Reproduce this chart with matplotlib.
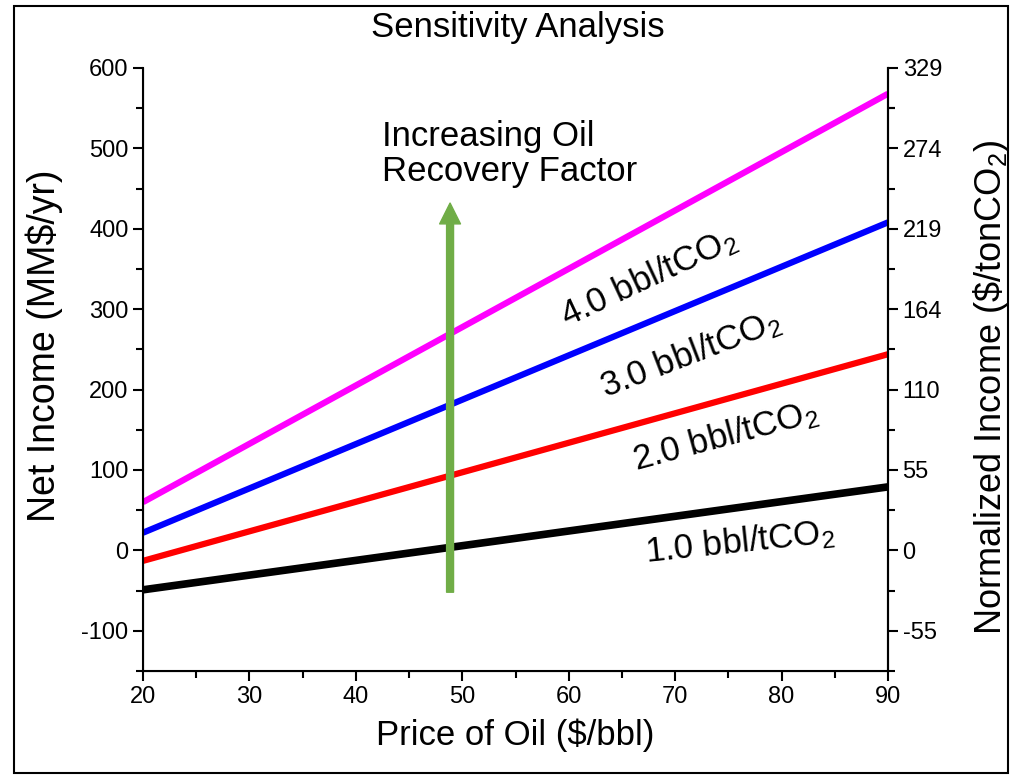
import matplotlib
matplotlib.use("Agg")
from matplotlib import pyplot as plt
from matplotlib.ticker import FixedLocator, MultipleLocator
from matplotlib.patches import Rectangle

plt.rcParams['font.family'] = ['Liberation Sans', 'DejaVu Sans']
plt.rcParams['mathtext.fontset'] = 'custom'
plt.rcParams['mathtext.rm'] = 'Liberation Sans'
plt.rcParams['mathtext.it'] = 'Liberation Sans'
plt.rcParams['axes.unicode_minus'] = False

# 数据：油价两端点及对应的净收入 (MM$/yr)
price = [20, 90]
income_1 = [-49, 79]
income_2 = [-13, 244]
income_3 = [22, 408]
income_4 = [60, 568]

line_colors = ['black', '#ff0000', '#0000ff', '#ff00ff']
line_labels = ['1.0 bbl/tCO$_\\mathregular{2}$', '2.0 bbl/tCO$_\\mathregular{2}$',
               '3.0 bbl/tCO$_\\mathregular{2}$', '4.0 bbl/tCO$_\\mathregular{2}$']

left_ticks = [-100, 0, 100, 200, 300, 400, 500, 600]
right_labels = ['-55', '0', '55', '110', '164', '219', '274', '329']
scale = 329 / 600

fig = plt.figure(figsize=(10.18, 7.76), dpi=100)
ax = fig.add_axes([0.1405, 0.1353, 0.7318, 0.7771])

series = [income_1, income_2, income_3, income_4]
widths = [5.5, 4.5, 4.5, 4.5]
for s, c, w in zip(series, line_colors, widths):
    ax.plot(price, s, color=c, lw=w, solid_capstyle='butt')

ax.set_xlim(20, 90)
ax.set_ylim(-150, 600)
ax.xaxis.set_major_locator(MultipleLocator(10))
ax.xaxis.set_minor_locator(MultipleLocator(5))
ax.yaxis.set_major_locator(FixedLocator(left_ticks))
ax.yaxis.set_minor_locator(MultipleLocator(50))
ax.tick_params(which='major', direction='out', length=7, width=1.5, labelsize=17)
ax.tick_params(which='minor', direction='out', length=5, width=1.5)
ax.spines['top'].set_visible(False)
for sp in ['left', 'bottom', 'right']:
    ax.spines[sp].set_linewidth(1.5)
ax.set_xlabel('Price of Oil ($/bbl)', fontsize=25, labelpad=8)
ax.set_ylabel('Net Income (MM$/yr)', fontsize=27)
ax.yaxis.set_label_coords(-0.108, 0.54)

# 右侧纵轴：归一化收入
ax2 = ax.twinx()
ax2.set_ylim(-150 * scale, 600 * scale)
ax2.yaxis.set_major_locator(FixedLocator([t * scale for t in left_ticks]))
ax2.set_yticklabels(right_labels)
ax2.yaxis.set_minor_locator(FixedLocator([(t - 50) * scale for t in left_ticks] + [550 * scale]))
ax2.tick_params(which='major', direction='out', length=7, width=1.5, labelsize=17)
ax2.tick_params(which='minor', direction='out', length=5, width=1.5)
ax2.spines['top'].set_visible(False)
ax2.spines['right'].set_linewidth(1.5)
ax2.set_ylabel('Normalized Income (\\$/tonCO$_\\mathregular{2}$)', fontsize=26)
ax2.yaxis.set_label_coords(1.112, 0.47)

# 曲线标注
label_pos = [(76.1, 10, 6), (74.7, 142, 15), (71.4, 244, 21), (67.5, 339, 25)]
for (x, y, r), t in zip(label_pos, line_labels):
    ax.text(x, y, t, fontsize=25, rotation=r, ha='center', va='center')

ax.annotate('', xy=(48.85, 432), xytext=(48.85, -52),
            arrowprops=dict(facecolor='#70ad47', edgecolor='#70ad47',
                            width=5, headwidth=15, headlength=15, shrink=0))
ax.text(42.5, 535, 'Increasing Oil\nRecovery Factor', fontsize=25,
        ha='left', va='top', linespacing=1.05)

fig.text(0.509, 1 - 28 / 776, 'Sensitivity Analysis', fontsize=25,
         ha='center', va='center')

# 外框
fig.patches.append(Rectangle((0.0138, 0.004), 0.976, 0.988, transform=fig.transFigure,
                             fill=False, edgecolor='black', lw=1.5))

fig.savefig('out.png', dpi=100)
